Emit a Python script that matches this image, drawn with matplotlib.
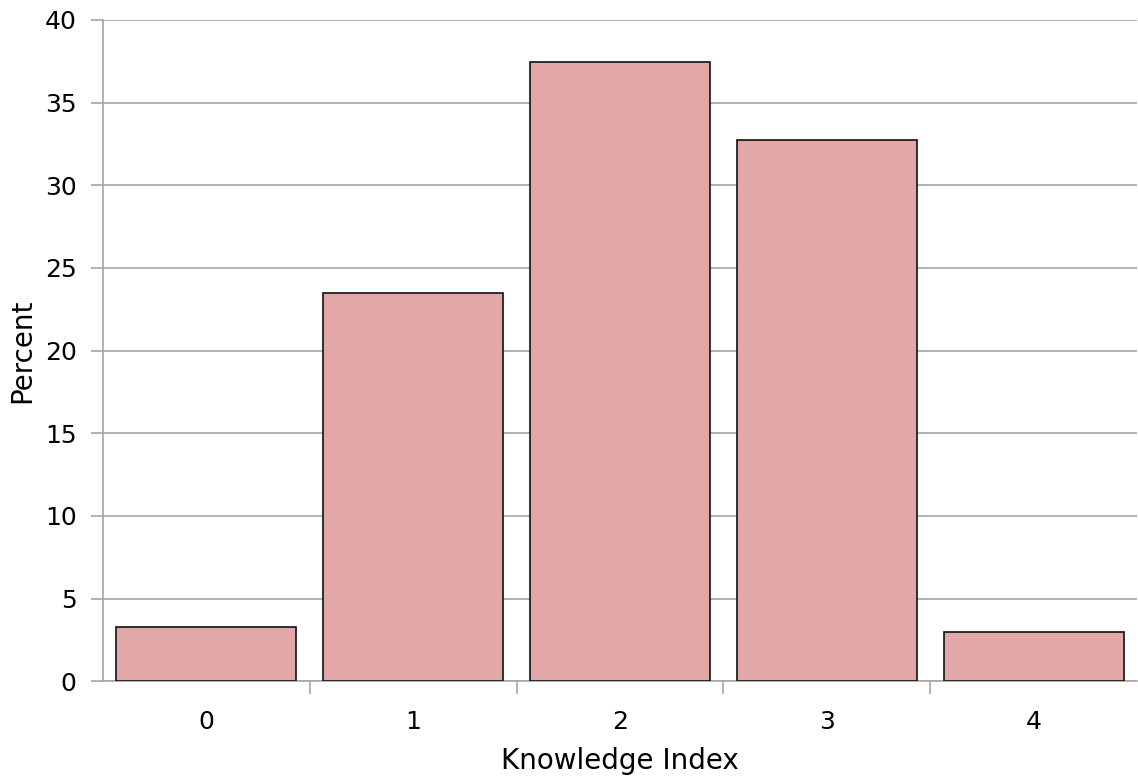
import matplotlib.pyplot as plt
from matplotlib.ticker import FixedLocator

categories = ['0', '1', '2', '3', '4']
percent = [3.3, 23.5, 37.45, 32.75, 2.96]
y_ticks = [0, 5, 10, 15, 20, 25, 30, 35, 40]

plt.rcParams['font.family'] = ['DejaVu Sans']

fig = plt.figure(figsize=(11.38, 7.79), dpi=100)
ax = fig.add_axes([0.0905, 0.1254, 0.9087, 0.849])

x = range(len(categories))
ax.bar(x, percent, width=0.87, color='#e1a8a7', edgecolor='#111111',
       linewidth=1.2, zorder=3)

ax.set_xlim(-0.5, len(categories) - 0.5)
ax.set_ylim(0, 40)
ax.set_yticks(y_ticks)
ax.yaxis.grid(True, color='#a6a6a6', linewidth=1.2, zorder=0)

# category labels centred, tick marks on the category boundaries
ax.set_xticks(list(x))
ax.set_xticklabels(categories)
ax.xaxis.set_minor_locator(FixedLocator([i + 0.5 for i in range(len(categories) - 1)]))
ax.tick_params(axis='x', which='major', length=0, pad=21, labelsize=18)
ax.tick_params(axis='x', which='minor', length=9, width=1.2, color='#a6a6a6')
ax.tick_params(axis='y', length=9, width=1.2, color='#a6a6a6', labelsize=18, pad=10)

for side in ['top', 'right']:
    ax.spines[side].set_visible(False)
for side in ['left', 'bottom']:
    ax.spines[side].set_color('#a6a6a6')
    ax.spines[side].set_linewidth(1.2)

ax.set_xlabel('Knowledge Index', fontsize=20, labelpad=9)
ax.set_ylabel('Percent', fontsize=20, labelpad=6)

fig.savefig('out.png', dpi=100)
